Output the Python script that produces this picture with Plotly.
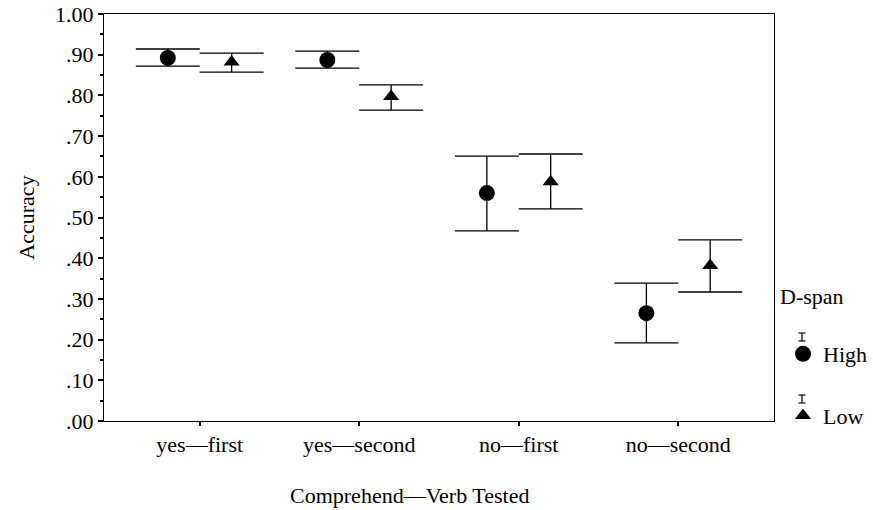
import plotly.graph_objects as go

categories = ["yes—first", "yes—second", "no—first", "no—second"]
high_mean = [0.892, 0.887, 0.560, 0.265]
high_upper = [0.914, 0.909, 0.651, 0.339]
high_lower = [0.872, 0.867, 0.467, 0.192]
low_mean = [0.882, 0.797, 0.588, 0.382]
low_upper = [0.904, 0.826, 0.656, 0.445]
low_lower = [0.857, 0.764, 0.521, 0.317]

ytick_vals = [0.0, 0.1, 0.2, 0.3, 0.4, 0.5, 0.6, 0.7, 0.8, 0.9, 1.0]
ytick_text = [".00", ".10", ".20", ".30", ".40", ".50", ".60", ".70", ".80", ".90", "1.00"]

FONT = "Liberation Serif"
FS = 22
W, H = 873, 510
ML, MR, MT, MB = 104, 99, 14, 89
PW, PH = W - ML - MR, H - MT - MB


def fnt(size=FS):
    return dict(family=FONT, size=size, color="black")


def px_x(x):
    return (x - ML) / PW


def px_y(y):
    return (H - MB - y) / PH


def err(mean, upper, lower):
    return dict(type="data", symmetric=False,
                array=[u - m for u, m in zip(upper, mean)],
                arrayminus=[m - l for m, l in zip(mean, lower)],
                color="black", thickness=1.3, width=32)


fig = go.Figure()
fig.add_trace(go.Scatter(
    x=categories, y=high_mean, mode="markers", name="High",
    marker=dict(symbol="circle", size=16, color="black"),
    error_y=err(high_mean, high_upper, high_lower),
    legendgroup="h"))
fig.add_trace(go.Scatter(
    x=categories, y=low_mean, mode="markers", name="Low",
    marker=dict(symbol="triangle-up", size=14, color="black"),
    error_y=err(low_mean, low_upper, low_lower),
    legendgroup="l"))

shapes = []
for yc in (337, 399):
    xc = 802
    shapes.append(dict(type="line", xref="paper", yref="paper",
                       x0=px_x(xc), x1=px_x(xc), y0=px_y(yc - 4), y1=px_y(yc + 4),
                       line=dict(color="black", width=1.2)))
    for yy in (yc - 4, yc + 4):
        shapes.append(dict(type="line", xref="paper", yref="paper",
                           x0=px_x(xc - 3.5), x1=px_x(xc + 3.5), y0=px_y(yy), y1=px_y(yy),
                           line=dict(color="black", width=1.2)))

fig.update_layout(
    width=W, height=H,
    margin=dict(l=ML, r=MR, t=MT, b=MB, autoexpand=False),
    paper_bgcolor="white", plot_bgcolor="white",
    font=fnt(),
    scattermode="group", scattergap=0.2,
    showlegend=True,
    legend=dict(x=px_x(783), y=px_y(333), xanchor="left", yanchor="top",
                tracegroupgap=30, font=fnt(), bgcolor="rgba(0,0,0,0)"),
    shapes=shapes,
    annotations=[
        dict(text="D-span", xref="paper", yref="paper", x=px_x(778), y=px_y(296),
             xanchor="left", yanchor="middle", showarrow=False, font=fnt()),
        dict(text="Comprehend—Verb Tested", xref="paper", yref="paper",
             x=px_x(409), y=px_y(496), xanchor="center", yanchor="middle",
             showarrow=False, font=fnt()),
    ],
)
fig.update_xaxes(
    type="category", range=[-0.6, 3.6],
    showline=True, mirror=True, linecolor="black", linewidth=1,
    ticks="outside", ticklen=4, tickwidth=2, tickcolor="black",
    showgrid=False, zeroline=False,
    tickfont=fnt(),
)
fig.update_yaxes(
    range=[0, 1], tickvals=ytick_vals, ticktext=ytick_text,
    showline=True, mirror=True, linecolor="black", linewidth=1,
    ticks="outside", ticklen=5, tickwidth=2, tickcolor="black",
    minor=dict(ticks="outside", ticklen=3, dtick=0.05, tickcolor="black", showgrid=False),
    showgrid=False, zeroline=False,
    title=dict(text="Accuracy", standoff=14, font=fnt()),
    tickfont=fnt(),
)

fig.write_html("out.html")
